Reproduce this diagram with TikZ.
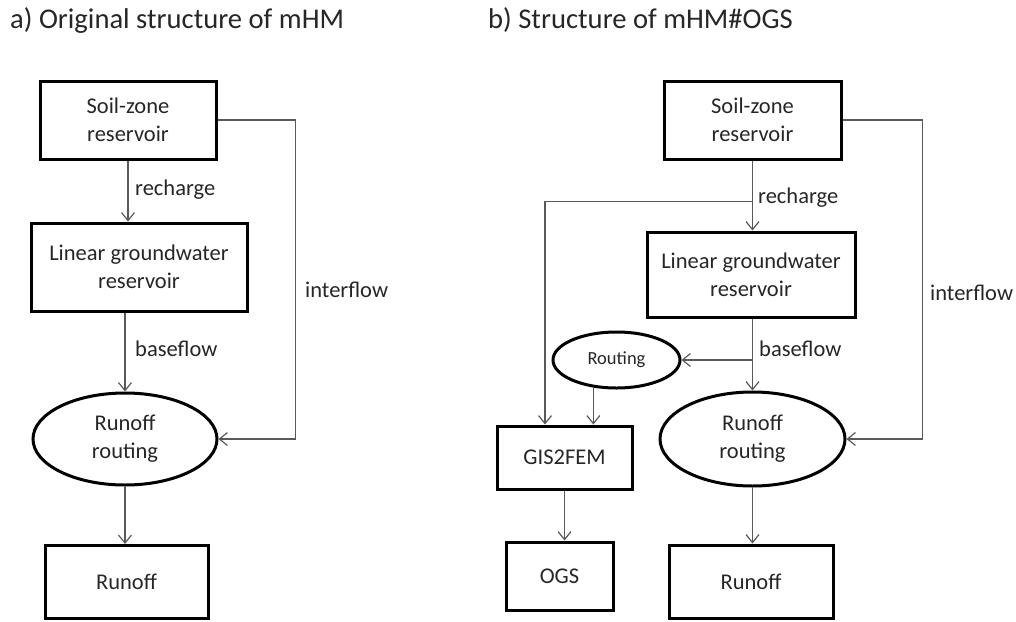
\documentclass[tikz,border=0pt]{standalone}
\usepackage{fontspec}
\setmainfont{Carlito}
\usetikzlibrary{arrows.meta,shapes.geometric,calc}
\definecolor{txt}{HTML}{262626}
\definecolor{lin}{HTML}{595959}
\tikzset{
  box/.style={draw=black, line width=3pt, rectangle, inner sep=0pt, align=center,
    text=txt, font=\fontsize{22.5}{28}\selectfont},
  oval/.style={draw=black, line width=3pt, ellipse, inner sep=0pt, align=center,
    text=txt, font=\fontsize{22.5}{28}\selectfont},
  conn/.style={draw=lin, line width=1.2pt, -{Straight Barb[length=8pt,width=13pt,line width=1.2pt]}},
  plain/.style={draw=lin, line width=1.2pt},
  lbl/.style={anchor=base west, inner sep=0pt, text=txt, font=\fontsize{22.5}{28}\selectfont},
  ttl/.style={anchor=base west, inner sep=0pt, text=txt, font=\fontsize{28.6}{34}\selectfont}
}
\begin{document}
\begin{tikzpicture}[x=1pt,y=-1pt]
\useasboundingbox (0,0) rectangle (1016,621);
% titles
\node[ttl] (ta) at (10,28.3) {a) Original structure of mHM};
\node[ttl] (tb) at (488,28.3) {b) Structure of mHM\#OGS};
% ---------- panel a ----------
\node[box, minimum width=176pt, minimum height=78pt] (soilA) at (128,120) {Soil-zone\\reservoir};
\node[box, minimum width=216pt, minimum height=88pt] (linA) at (139,267) {Linear groundwater\\reservoir};
\node[oval, minimum width=184pt, minimum height=92pt] (routA) at (125,439) {Runoff\\routing};
\node[box, minimum width=163pt, minimum height=73pt] (runA) at (126.5,582) {Runoff};
\draw[conn] (soilA.south) -- (soilA.south |- linA.north);
\draw[conn] (routA.north |- linA.south) -- (routA.north);
\draw[conn] (routA.south) -- (routA.south |- runA.north);
\draw[conn] (soilA.east) -- ++(78,0) |- (routA.east);
\node[lbl] (rcA) at (135,195) {recharge};
\node[lbl] (bfA) at (135,356.7) {baseflow};
\node[lbl] (ifA) at (305,297.7) {interflow};
% ---------- panel b ----------
\node[box, minimum width=177pt, minimum height=78pt] (soilB) at (752.5,120) {Soil-zone\\reservoir};
\node[box, minimum width=208pt, minimum height=85pt] (linB) at (751,274.5) {Linear groundwater\\reservoir};
\node[oval, minimum width=127pt, minimum height=56pt, font=\fontsize{18.5}{22}\selectfont] (rtB) at (616.5,360) {Routing};
\node[box, minimum width=135pt, minimum height=63pt] (gis) at (564.5,457.5) {GIS2FEM};
\node[box, minimum width=107pt, minimum height=68pt] (ogs) at (559.5,576) {OGS};
\node[oval, minimum width=185pt, minimum height=94pt] (routB) at (752.5,439) {Runoff\\routing};
\node[box, minimum width=164pt, minimum height=73pt] (runB) at (751,581.5) {Runoff};
\coordinate (brR) at ($(soilB.south)+(0,41)$);
\draw[conn] (soilB.south) -- (soilB.south |- linB.north);
\draw[conn] (brR) -| ([xshift=-19.5pt]gis.north);
\draw[conn] (routB.north |- linB.south) -- (routB.north);
\draw[conn] (routB.north |- rtB.east) -- (rtB.east);
\draw[conn] (rtB.230.7) -- (rtB.230.7 |- gis.north);
\draw[conn] (gis.south) -- (gis.south |- ogs.north);
\draw[conn] (routB.south) -- (routB.south |- runB.north);
\draw[conn] (soilB.east) -- ++(80,0) |- (routB.east);
\node[lbl] (rcB) at (758,203.3) {recharge};
\node[lbl] (bfB) at (759,356) {baseflow};
\node[lbl] (ifB) at (930,300) {interflow};
\end{tikzpicture}
\end{document}
